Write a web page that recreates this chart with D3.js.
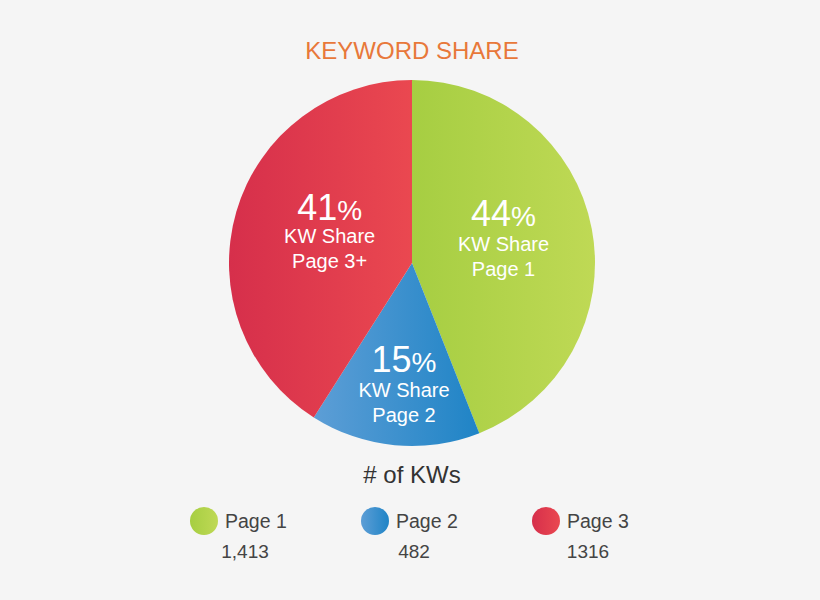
<!DOCTYPE html>
<html lang="en">
<head>
    <meta charset="UTF-8">
    <title>Keyword Share</title>
    <script src="https://d3js.org/d3.v7.min.js"></script>
    <style>
        body { margin: 0; background: #f5f5f5; }
        svg { display: block; font-family: "Liberation Sans", Arial, sans-serif; }
    </style>
</head>
<body>
    <svg width="820" height="600"></svg>

    <script type="text/javascript">
        // Data
        const pages = ['Page 1', 'Page 2', 'Page 3'];
        const sliceNames = ['Page 1', 'Page 2', 'Page 3+'];
        const kwCounts = [1413, 482, 1316];
        const countLabels = ['1,413', '482', '1316'];
        const sharePct = [44, 15, 41];

        const width = 820;
        const height = 600;
        const cx = 412, cy = 263, radius = 183;

        const svg = d3.select('svg')
            .attr('width', width)
            .attr('height', height);

        // horizontal gradients for each slice
        const gradStops = [
            ['#a6ce42', '#bfd955'],
            ['#5d9ed6', '#1f84c6'],
            ['#d62f4b', '#ea4850']
        ];
        const defs = svg.append('defs');
        gradStops.forEach((g, i) => {
            const lg = defs.append('linearGradient')
                .attr('id', 'grad' + i)
                .attr('x1', '0%').attr('x2', '100%')
                .attr('y1', '0%').attr('y2', '0%');
            lg.append('stop').attr('offset', '0%').attr('stop-color', g[0]);
            lg.append('stop').attr('offset', '100%').attr('stop-color', g[1]);
        });

        // Title
        svg.append('text')
            .attr('x', cx)
            .attr('y', 59)
            .attr('text-anchor', 'middle')
            .attr('fill', '#e8783a')
            .attr('font-size', 24)
            .text('KEYWORD SHARE');

        const pie = d3.pie().sort(null).value(d => d);
        const arcs = pie(kwCounts);
        const arc = d3.arc().innerRadius(0).outerRadius(radius);

        const g = svg.append('g').attr('transform', `translate(${cx},${cy})`);

        g.selectAll('path')
            .data(arcs)
            .join('path')
            .attr('d', arc)
            .attr('fill', (d, i) => `url(#grad${i})`);

        // slice labels, nudged off the centroid like the original
        const labelArc = d3.arc().innerRadius(radius * 0.52).outerRadius(radius * 0.52);
        const labelOffsets = [[-2, -1], [1, 32], [9, 0]];
        const labels = g.selectAll('.slice-label')
            .data(arcs)
            .join('g')
            .attr('class', 'slice-label')
            .attr('transform', (d, i) => {
                const c = labelArc.centroid(d);
                return `translate(${c[0] + labelOffsets[i][0]},${c[1] + labelOffsets[i][1]})`;
            })
            .attr('fill', '#fff')
            .attr('text-anchor', 'middle');

        const pctText = labels.append('text')
            .attr('y', (d, i) => i === 2 ? -16 : -18)
            .attr('font-size', 36);
        pctText.append('tspan').text((d, i) => sharePct[i]);
        pctText.append('tspan').attr('font-size', 28).text('%');

        labels.append('text')
            .attr('y', 7)
            .attr('font-size', 20)
            .text('KW Share');

        labels.append('text')
            .attr('y', 32)
            .attr('font-size', 20)
            .text((d, i) => sliceNames[i]);

        // Legend
        svg.append('text')
            .attr('x', cx)
            .attr('y', 483)
            .attr('text-anchor', 'middle')
            .attr('fill', '#333')
            .attr('font-size', 24)
            .text('# of KWs');

        const legendX = d3.scalePoint()
            .domain(pages)
            .range([204, 546]);

        const legend = svg.selectAll('.legend')
            .data(pages)
            .join('g')
            .attr('class', 'legend')
            .attr('transform', d => `translate(${legendX(d)},521)`);

        legend.append('circle')
            .attr('r', 14)
            .attr('fill', (d, i) => `url(#grad${i})`);

        legend.append('text')
            .attr('x', 21)
            .attr('y', 7)
            .attr('fill', '#444')
            .attr('font-size', 19.5)
            .text(d => d);

        legend.append('text')
            .attr('x', (d, i) => [41, 39, 42][i])
            .attr('y', 37)
            .attr('text-anchor', 'middle')
            .attr('fill', '#444')
            .attr('font-size', 19)
            .text((d, i) => countLabels[i]);
    </script>
</body>
</html>
